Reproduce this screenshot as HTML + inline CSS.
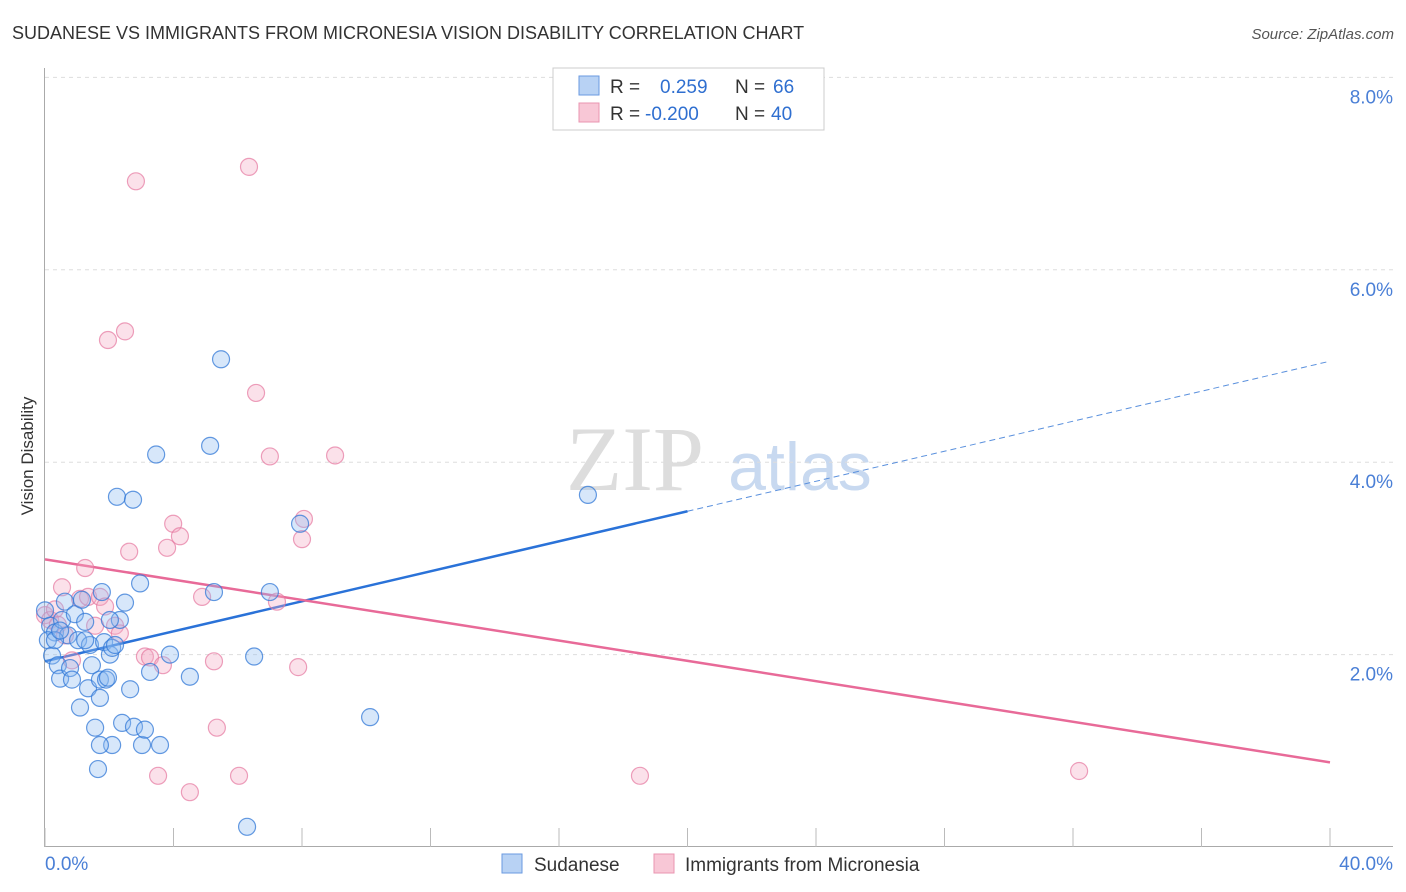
<!DOCTYPE html>
<html><head><meta charset="utf-8">
<style>
body{margin:0;background:#fff;font-family:"Liberation Sans",sans-serif;}
#c{position:absolute;left:0;top:0;}
</style></head>
<body>
<svg id="c" width="1406" height="892">
<text x="12" y="39" font-size="18" fill="#333">SUDANESE VS IMMIGRANTS FROM MICRONESIA VISION DISABILITY CORRELATION CHART</text>
<text x="1394" y="39" font-size="15" fill="#555" font-style="italic" text-anchor="end">Source: ZipAtlas.com</text>
<text x="33" y="456" font-size="17" fill="#333" text-anchor="middle" transform="rotate(-90 33 456)">Vision Disability</text>
<g><text x="635" y="490" font-size="92" fill="#ddd" font-family="Liberation Serif,serif" text-anchor="middle">ZIP</text><text x="800" y="490" font-size="68" fill="#c8d9f0" text-anchor="middle">atlas</text></g>
<g id="grid"></g>
<g id="axes"></g>
<g id="lines"></g>
<g id="pts"></g>
<g>
<rect x="553" y="68" width="271" height="62" fill="#fff" stroke="#ccc"/>
<rect x="579" y="76" width="20" height="19" fill="#b8d2f4" stroke="#6a9ae0"/>
<rect x="579" y="103" width="20" height="19" fill="#f8c7d6" stroke="#ea94b0"/>
<text x="610" y="93" font-size="19" fill="#333">R = </text><text x="660" y="93" font-size="19" fill="#2f6fd0">0.259</text>
<text x="735" y="93" font-size="19" fill="#333">N = </text><text x="773" y="93" font-size="19" fill="#2f6fd0">66</text>
<text x="610" y="120" font-size="19" fill="#333">R = </text><text x="645" y="120" font-size="19" fill="#2f6fd0">-0.200</text>
<text x="735" y="120" font-size="19" fill="#333">N = </text><text x="771" y="120" font-size="19" fill="#2f6fd0">40</text>
</g>
<g>
<rect x="502" y="854" width="20" height="19" fill="#b8d2f4" stroke="#6a9ae0"/>
<text x="534" y="871" font-size="19" fill="#333">Sudanese</text>
<rect x="654" y="854" width="20" height="19" fill="#f8c7d6" stroke="#ea94b0"/>
<text x="685" y="871" font-size="19" fill="#333">Immigrants from Micronesia</text>
</g>
</svg>
<script>
const yTicks=[2,4,6,8];
const yTickLabels=["2.0%","4.0%","6.0%","8.0%"];
const xTickLabels=["0.0%","40.0%"];
const blueX=[0,0.16,0.31,0.09,0.22,0.4,0.47,0.62,0.53,0.72,0.78,0.84,0.93,1.03,1.09,1.15,1.25,1.34,1.4,1.46,1.56,1.65,1.71,1.71,1.77,1.84,1.9,1.96,2.02,2.09,2.09,2.18,2.24,2.33,2.4,2.49,2.65,2.74,2.77,2.96,3.02,3.11,3.27,3.46,3.58,3.89,4.51,5.14,5.26,5.48,6.29,6.51,7.0,7.94,10.12,16.9,1.71,0.31,0.47,1.25,2.02];
const blueY=[2.46,2.3,2.23,2.15,1.99,1.89,1.75,2.55,2.36,2.2,1.86,1.74,2.42,2.15,1.45,2.57,2.34,1.65,2.1,1.89,1.24,0.81,1.55,1.74,2.65,2.13,1.74,1.76,2.0,2.07,1.06,2.1,3.64,2.36,1.29,2.54,1.64,3.61,1.25,2.74,1.06,1.22,1.82,4.08,1.06,2.0,1.77,4.17,2.65,5.07,0.21,1.98,2.65,3.36,1.35,3.66,1.06,2.15,2.25,2.15,2.36];
const pinkX=[0,0.16,0.31,0.4,0.53,0.62,0.84,1.09,1.25,1.34,1.56,1.71,1.87,1.96,2.18,2.33,2.49,2.62,2.83,3.11,3.27,3.52,3.67,3.8,3.99,4.2,4.51,4.89,5.26,5.35,6.04,6.35,6.57,7.0,7.22,7.88,8.0,8.06,9.03,18.52,32.19];
const pinkY=[2.41,2.36,2.47,2.31,2.7,2.2,1.94,2.58,2.9,2.6,2.3,2.6,2.5,5.27,2.3,2.22,5.36,3.07,6.92,1.98,1.97,0.74,1.89,3.11,3.36,3.23,0.57,2.6,1.93,1.24,0.74,7.07,4.72,4.06,2.55,1.87,3.2,3.41,4.07,0.74,0.79];
const blueTrend=[0,1.93,20,3.49,40,5.05];
const pinkTrend=[0,2.99,40,0.88];
const X=v=>45+v*32.125, Y=v=>847-v*96.2;
const NS="http://www.w3.org/2000/svg";
function mk(t,p,a){const e=document.createElementNS(NS,t);for(const k in a)e.setAttribute(k,a[k]);p.appendChild(e);return e;}
const grid=document.getElementById('grid'),axes=document.getElementById('axes'),lines=document.getElementById('lines'),pts=document.getElementById('pts');
yTicks.forEach((v,i)=>{
 const l=mk('line',grid,{x1:45,x2:1393,y1:Y(v),y2:Y(v),stroke:'#ddd','stroke-dasharray':'4,4'});
 
 
 const t=mk('text',axes,{x:1393,y:Y(v)+26,'font-size':19,fill:'#4a7fd6','text-anchor':'end'});
 t.textContent=yTickLabels[i];
 
 
});
const la=mk('line',axes,{x1:44.5,x2:44.5,y1:68,y2:847,stroke:'#aaa'});


const lb=mk('line',axes,{x1:44,x2:1393,y1:846.5,y2:846.5,stroke:'#aaa'});


for(let i=0;i<=10;i++){const tk=mk('line',axes,{x1:X(i*4),x2:X(i*4),y1:828,y2:847,stroke:'#bbb'});
 
 }
[[0,'start'],[40,'end']].forEach((d,i)=>{const t=mk('text',axes,{x:i?1393:45,y:870,'font-size':19,fill:'#4a7fd6','text-anchor':d[1]});t.textContent=xTickLabels[i];
 
 });
function pt(xs,ys,fill,stroke,name){xs.forEach((x,i)=>{const c=mk('circle',pts,{cx:X(x),cy:Y(ys[i]),r:8.5,fill:fill,stroke:stroke,'stroke-width':1.2});
 
 });}
pt(pinkX,pinkY,'rgba(244,170,195,0.35)','rgba(230,120,160,0.7)','micronesia-point');
pt(blueX,blueY,'rgba(140,185,240,0.35)','rgba(50,120,215,0.75)','sudanese-point');
const b1=mk('line',lines,{x1:X(blueTrend[0]),y1:Y(blueTrend[1]),x2:X(blueTrend[2]),y2:Y(blueTrend[3]),stroke:'#2a72d8','stroke-width':2.5});


const b2=mk('line',lines,{x1:X(blueTrend[2]),y1:Y(blueTrend[3]),x2:X(blueTrend[4]),y2:Y(blueTrend[5]),stroke:'#5a90dd','stroke-width':1,'stroke-dasharray':'6,4'});


const p1=mk('line',lines,{x1:X(pinkTrend[0]),y1:Y(pinkTrend[1]),x2:X(pinkTrend[2]),y2:Y(pinkTrend[3]),stroke:'#e86a98','stroke-width':2.5});


</script>
</body></html>
